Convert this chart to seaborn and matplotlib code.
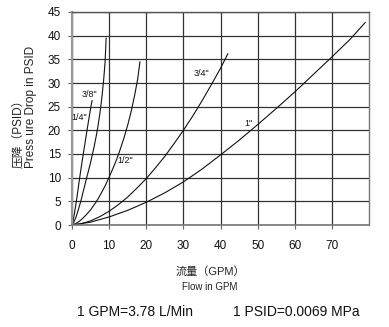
import matplotlib
matplotlib.use("Agg")
import matplotlib.pyplot as plt
import seaborn as sns
import pandas as pd

# Pressure drop curves per pipe size (flow in GPM, drop in PSID)
sizes = ['1/4"', '3/8"', '1/2"', '3/4"', '1"']

flow_14 = [0, 0.25, 0.5, 0.75, 1, 1.25, 1.5, 2, 2.5, 3, 3.5, 4, 4.5, 5, 5.4]
psid_14 = [0, 0.8, 1.8, 2.9, 4.1, 5.4, 6.8, 9.6, 12.3, 14.8, 17.3, 19.8, 22.2, 24.6, 26.3]

flow_38 = [0, 0.5, 1, 1.5, 2, 2.5, 3, 4, 5, 6, 6.5, 7, 7.5, 8, 8.5, 8.9, 9.2]
psid_38 = [0, 0.6, 1.5, 2.7, 4.0, 5.4, 7.0, 10.1, 13.2, 16.7, 18.7, 20.9, 23.5, 26.6, 30.4, 34.3, 39.5]

flow_12 = [0, 1, 2, 3, 4, 5, 6, 7, 8, 9, 10, 11, 12, 13, 14, 15, 16, 17, 17.7, 18.3]
psid_12 = [0, 0.3, 0.8, 1.5, 2.3, 3.2, 4.3, 5.5, 6.9, 8.4, 10.1, 11.9, 13.8, 16.0, 18.4, 21.1, 24.2, 27.9, 30.9, 34.5]

flow_34 = [0, 2.5, 5, 7.5, 10, 12.5, 15, 17.5, 20, 22.5, 25, 27.5, 30, 32.5, 35, 37.5, 40, 42]
psid_34 = [0, 0.26, 0.87, 1.77, 2.9, 4.3, 5.9, 7.8, 9.8, 12.1, 14.5, 17.2, 20.0, 23.0, 26.2, 29.6, 33.1, 36.2]

flow_1 = [0, 5, 10, 15, 20, 25, 30, 35, 40, 45, 50, 55, 60, 65, 70, 75, 79]
psid_1 = [0, 0.6, 1.7, 3.1, 4.8, 6.8, 9.1, 11.8, 14.8, 17.9, 21.2, 24.6, 28.1, 31.8, 35.5, 39.3, 42.8]

x_ticks = [0, 10, 20, 30, 40, 50, 60, 70]
y_ticks = [0, 5, 10, 15, 20, 25, 30, 35, 40, 45]

# Curve labels: text and anchor point in data units
label_text = ['1/4"', '3/8"', '1/2"', '3/4"', '1"']
label_x = [1.9, 4.8, 14.3, 35.0, 47.4]
label_y = [22.8, 27.5, 13.7, 32.0, 21.5]

frames = []
for name, fx, fy in zip(sizes,
                        [flow_14, flow_38, flow_12, flow_34, flow_1],
                        [psid_14, psid_38, psid_12, psid_34, psid_1]):
    frames.append(pd.DataFrame({"flow": fx, "psid": fy, "size": name}))
df = pd.concat(frames, ignore_index=True)

sns.set_theme(style="white")
fam = ["Liberation Sans", "Noto Sans CJK SC", "DejaVu Sans"]
plt.rcParams["font.family"] = fam

fig = plt.figure(figsize=(3.89, 3.27), dpi=100)
ax = fig.add_axes([72 / 389, 1 - 225 / 327, (369 - 72) / 389, (225 - 12) / 327])

sns.lineplot(data=df, x="flow", y="psid", hue="size", units="size",
             estimator=None, sort=False, palette=["#111111"] * 5,
             linewidth=0.8, legend=False, ax=ax)

ax.set_xlim(0, 80)
ax.set_ylim(0, 45)
ax.set_xticks(x_ticks)
ax.set_yticks(y_ticks)
ax.set_xticklabels([str(v) for v in x_ticks])
ax.set_yticklabels([str(v) for v in y_ticks])
ax.grid(True, color="#333333", linewidth=0.9)
ax.set_axisbelow(True)
ax.set_xlabel("")
ax.set_ylabel("")

ax.tick_params(axis="both", which="both", direction="out", length=3,
               width=0.8, color="#666666", labelsize=8.5, labelcolor="#111111",
               pad=5)
ax.tick_params(axis="x", pad=8)
ax.tick_params(left=True, bottom=True)

for side, col, lw in [("left", "#999999", 1.6), ("bottom", "#777777", 1.2),
                      ("top", "#555555", 1.0), ("right", "#777777", 1.0)]:
    ax.spines[side].set_color(col)
    ax.spines[side].set_linewidth(lw)
    ax.spines[side].set_visible(True)

for t, lx, ly in zip(label_text, label_x, label_y):
    ax.text(lx, ly, t, fontsize=6.5, ha="center", va="center", color="#111111")

# Axis titles
fig.text(18 / 389, 1 - 168 / 327, "压降（PSID）", rotation=90, ha="center",
         va="bottom", fontsize=8.5, color="#222222", family=fam)
fig.text(31 / 389, 1 - 168 / 327, "Press ure Drop in PSID", rotation=90,
         ha="center", va="bottom", fontsize=8.5, color="#222222", family=fam)
fig.text(210 / 389, 1 - 272 / 327, "流量（GPM）", ha="center", va="center",
         fontsize=8, color="#222222", family=fam)
fig.text(210 / 389, 1 - 287 / 327, "Flow in GPM", ha="center", va="center",
         fontsize=7, color="#222222", family=fam)

# Unit conversions
fig.text(77 / 389, 1 - 312 / 327, "1 GPM=3.78 L/Min", ha="left", va="center",
         fontsize=10, color="#111111", family=fam)
fig.text(360 / 389, 1 - 312 / 327, "1 PSID=0.0069 MPa", ha="right",
         va="center", fontsize=10, color="#111111", family=fam)

fig.savefig("out.png", dpi=100)
